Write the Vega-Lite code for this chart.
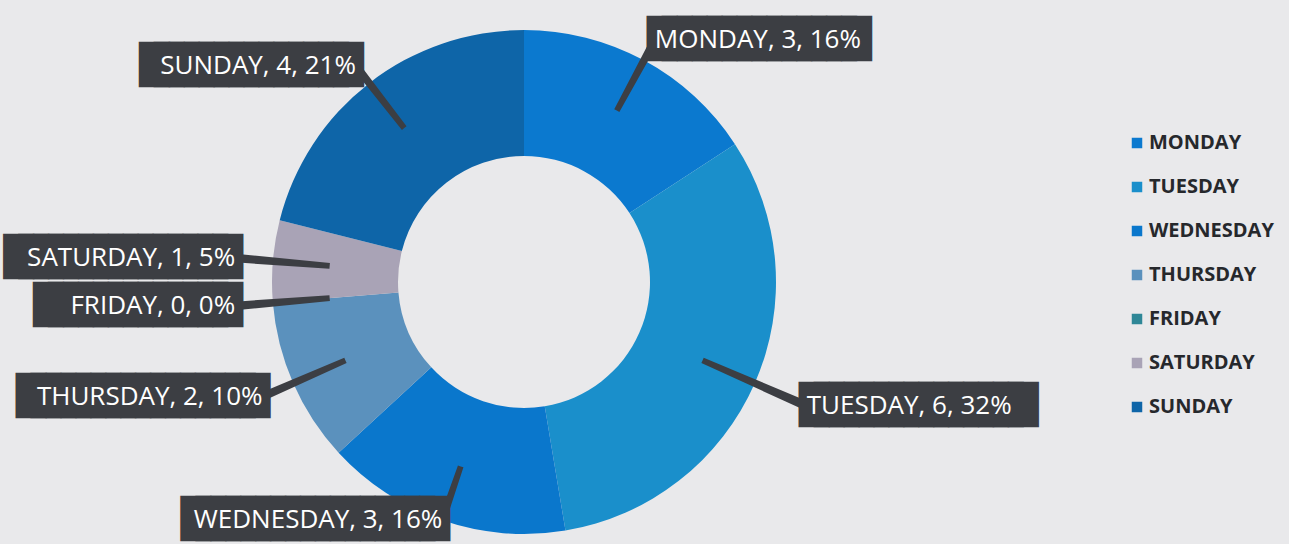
{
  "$schema": "https://vega.github.io/schema/vega-lite/v6.json",
  "width": 1048,
  "height": 524,
  "autosize": "none",
  "padding": {"left": 0, "top": 20, "right": 241, "bottom": 0},
  "background": "#e9e9eb",
  "config": {"view": {"stroke": null}},
  "data": {
    "values": [
      {"day": "MONDAY", "count": 3, "pct": 16},
      {"day": "TUESDAY", "count": 6, "pct": 32},
      {"day": "WEDNESDAY", "count": 3, "pct": 16},
      {"day": "THURSDAY", "count": 2, "pct": 10},
      {"day": "FRIDAY", "count": 0, "pct": 0},
      {"day": "SATURDAY", "count": 1, "pct": 5},
      {"day": "SUNDAY", "count": 4, "pct": 21}
    ]
  },
  "transform": [
    {"window": [{"op": "sum", "field": "count", "as": "cum"}], "frame": [null, 0]},
    {"joinaggregate": [{"op": "sum", "field": "count", "as": "total"}]},
    {"calculate": "datum.cum - datum.count / 2", "as": "mid"},
    {"calculate": "2 * PI * datum.mid / datum.total", "as": "ang"},
    {"calculate": "sin(datum.ang)", "as": "s"},
    {"calculate": "cos(datum.ang)", "as": "c"},
    {"calculate": "datum.s >= 0 ? 320 : 290", "as": "ea"},
    {"calculate": "datum.ea * 265 / sqrt(pow(265 * datum.s, 2) + pow(datum.ea * datum.c, 2))", "as": "re"},
    {"calculate": "datum.c < 0 ? min(datum.re, 238 / (-datum.c)) : min(datum.re, 250 / datum.c)", "as": "lr"},
    {"calculate": "datum.mid - 0.045", "as": "t0"},
    {"calculate": "datum.mid + 0.045", "as": "t1"},
    {"calculate": "datum.day + ', ' + datum.count + ', ' + datum.pct + '%'", "as": "label"},
    {"calculate": "pad('', length(datum.label), '█')", "as": "blk"}
  ],
  "layer": [
    {
      "mark": {"type": "arc", "outerRadius": 252, "innerRadius": 126},
      "encoding": {
        "theta": {"field": "count", "type": "quantitative", "stack": true},
        "order": {"field": "cum", "type": "quantitative"},
        "color": {
          "field": "day",
          "type": "nominal",
          "scale": {
            "domain": ["MONDAY", "TUESDAY", "WEDNESDAY", "THURSDAY", "FRIDAY", "SATURDAY", "SUNDAY"],
            "range": ["#0b79cf", "#1a8fcb", "#0a77cc", "#5b91bd", "#2f8797", "#a9a3b6", "#0e65a8"]
          },
          "legend": {
            "title": null,
            "orient": "none",
            "legendX": 1127,
            "legendY": 113,
            "padding": 0,
            "symbolType": "square",
            "symbolSize": 110,
            "symbolStrokeWidth": 0,
            "labelFont": "Open Sans",
            "labelFontWeight": "bold",
            "labelFontSize": 20,
            "labelColor": "#26282c",
            "labelOffset": 2,
            "rowPadding": 24
          }
        }
      }
    },
    {
      "mark": {"type": "arc", "innerRadius": 195, "color": "#3c3e43"},
      "encoding": {
        "theta": {"field": "t0", "type": "quantitative", "stack": null},
        "theta2": {"field": "t1"},
        "radius": {"field": "lr", "type": "quantitative", "scale": null}
      }
    },
    {
      "mark": {
        "type": "text",
        "font": "DejaVu Sans Mono",
        "fontSize": 24.8,
        "fill": "#3c3e43",
        "stroke": "#3c3e43",
        "strokeWidth": 16,
        "strokeJoin": "miter",
        "baseline": "middle",
        "align": {"expr": "datum.s >= 0 ? 'left' : 'right'"}
      },
      "encoding": {
        "theta": {"field": "mid", "type": "quantitative", "stack": null},
        "radius": {"field": "lr", "type": "quantitative", "scale": null},
        "text": {"field": "blk"}
      }
    },
    {
      "mark": {
        "type": "text",
        "font": "Open Sans",
        "fontSize": 26,
        "fill": "#ffffff",
        "baseline": "middle",
        "align": {"expr": "datum.s >= 0 ? 'left' : 'right'"}
      },
      "encoding": {
        "theta": {"field": "mid", "type": "quantitative", "stack": null},
        "radius": {"field": "lr", "type": "quantitative", "scale": null},
        "text": {"field": "label"}
      }
    }
  ]
}
